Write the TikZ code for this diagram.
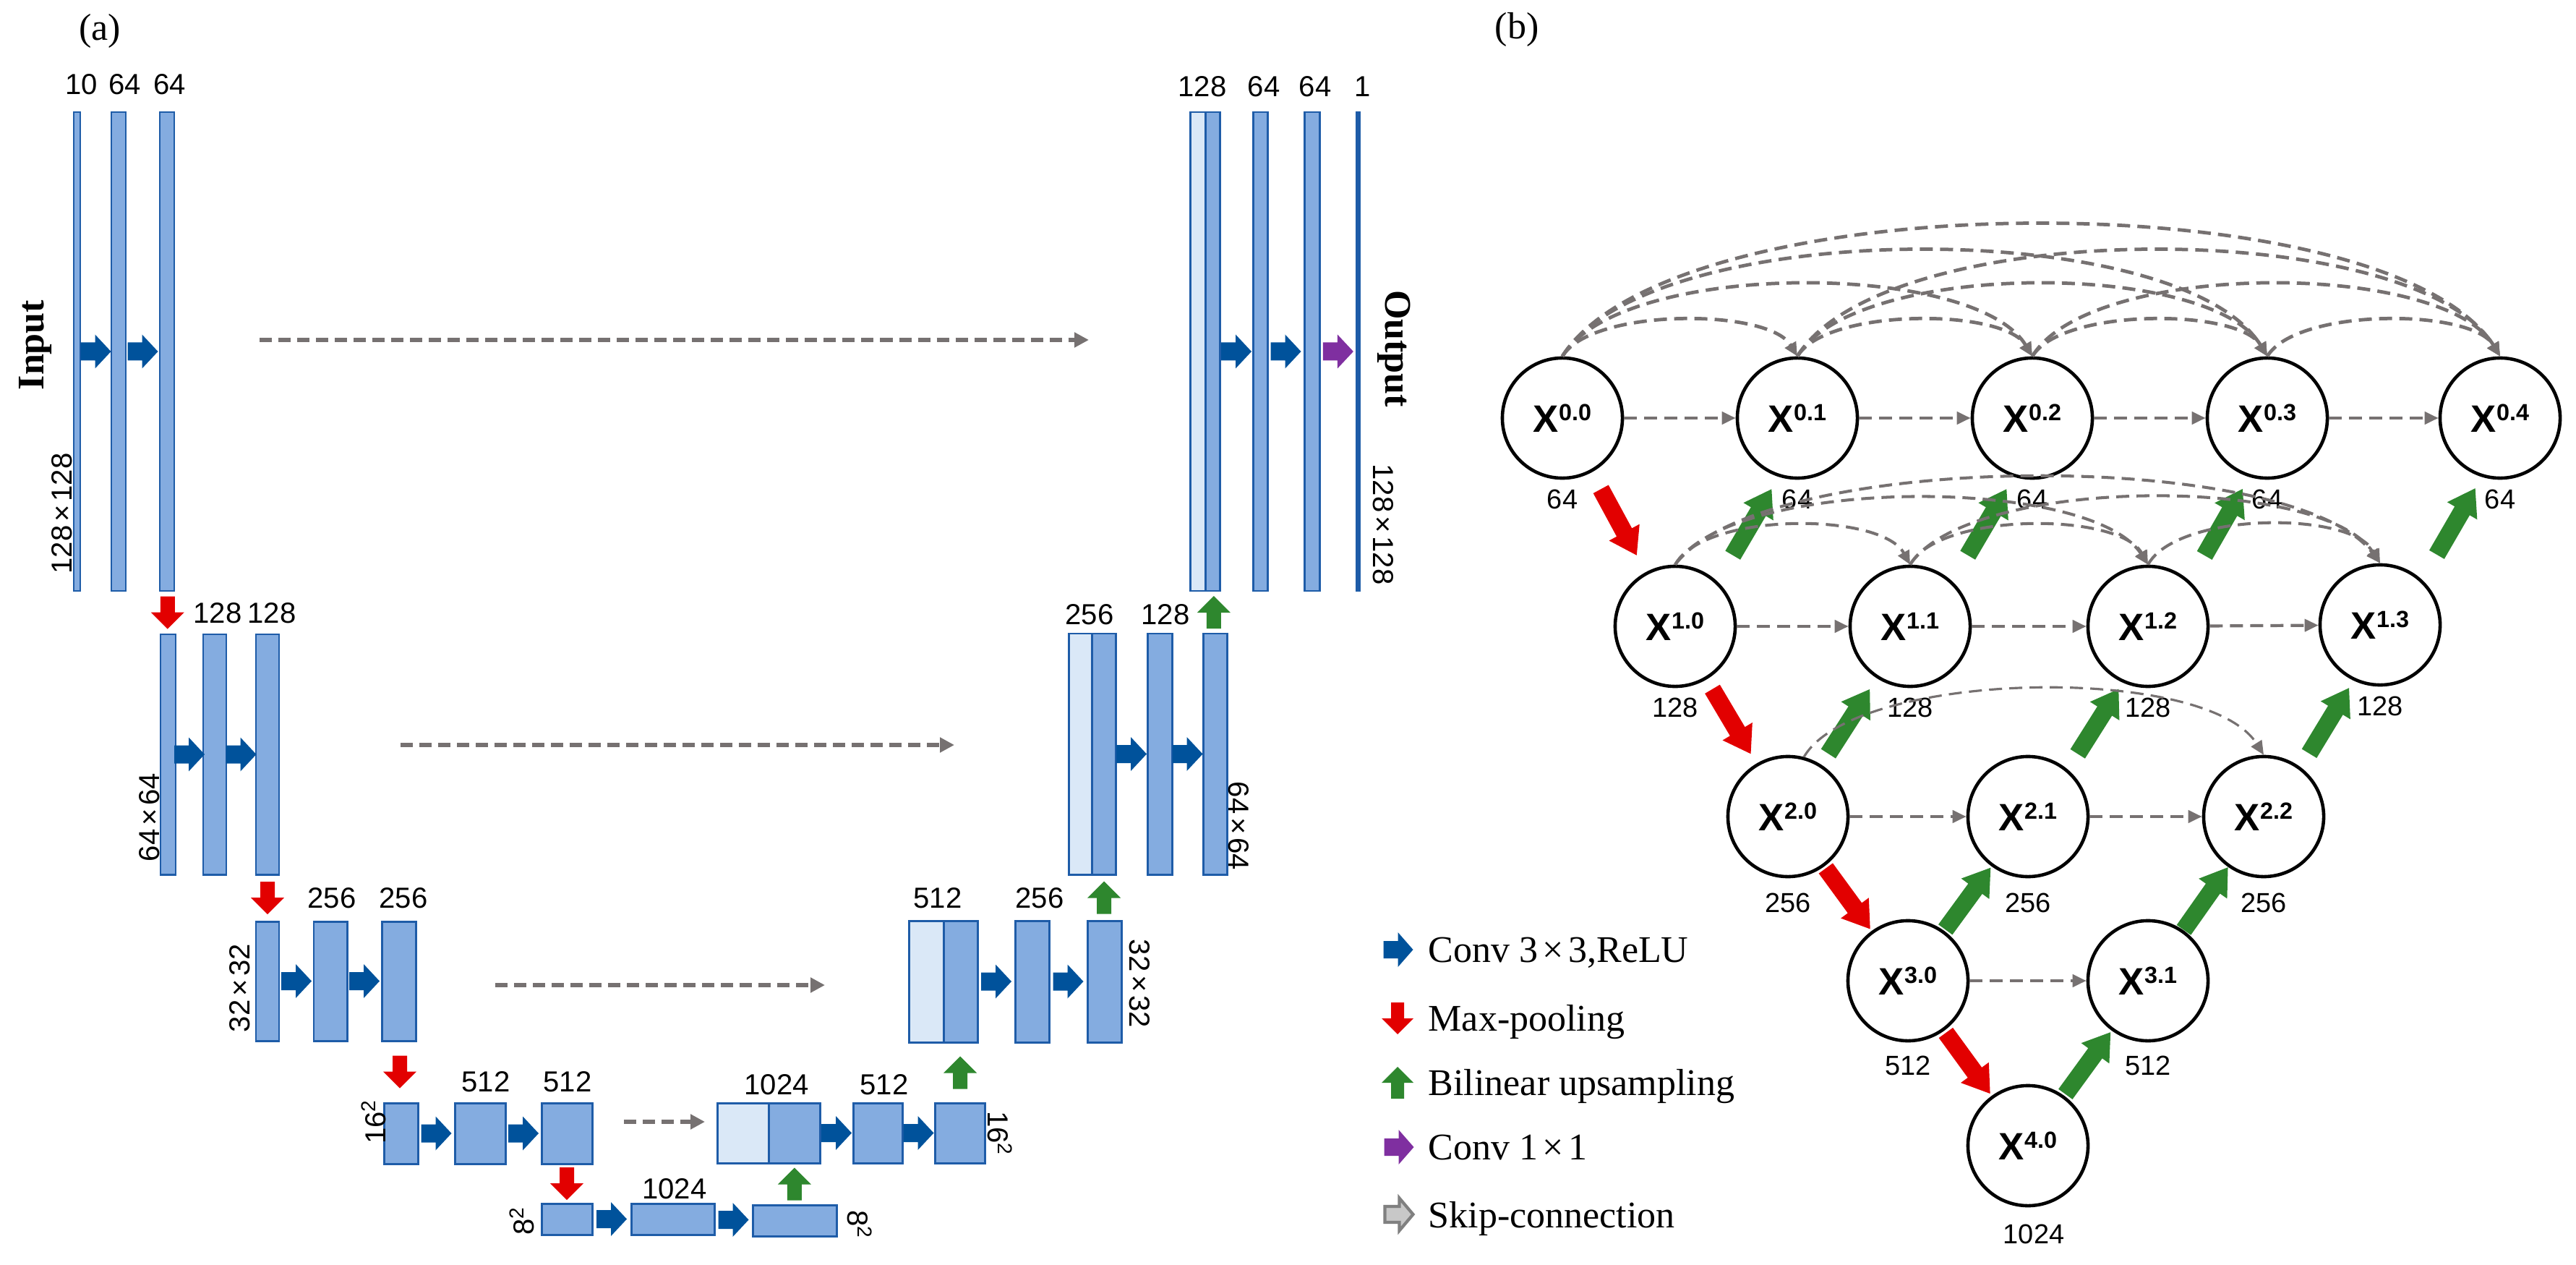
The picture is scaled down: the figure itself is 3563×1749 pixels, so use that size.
\documentclass[tikz,border=0pt]{standalone}
\usepackage{fontspec}
\setmainfont{Liberation Serif}
\setsansfont{Liberation Sans}
\usetikzlibrary{arrows.meta,calc,fit}
\definecolor{barfill}{RGB}{132,172,224}
\definecolor{barlight}{RGB}{218,232,247}
\definecolor{barline}{RGB}{30,92,168}
\definecolor{convblue}{RGB}{0,82,155}
\definecolor{poolred}{RGB}{226,0,0}
\definecolor{upgreen}{RGB}{46,135,46}
\definecolor{cpurple}{RGB}{127,47,160}
\definecolor{skipgray}{RGB}{118,113,113}
\definecolor{leggray}{RGB}{200,200,200}
\definecolor{legline}{RGB}{128,128,128}
\newcommand\Xl[1]{X\raisebox{4.6pt}{\fontsize{9.2}{9.2}\selectfont #1}}
\newcommand\mkbar[6][bar]{\node[#1, fit={(#3,#5) (#4,#6)}] (#2) {};}
\newcommand\sqr[1]{#1\textsuperscript{2}}
\newcommand\tms[2]{#1\hspace{0.12em}×\hspace{0.12em}#2}
\tikzset{
  pics/blk/.style n args={5}{code={%
    \path[#1] ({-(#2)/2},{-(#3)/2}) -- ({(#2)/2-(#5)},{-(#3)/2}) -- ({(#2)/2-(#5)},{-(#4)/2}) -- ({(#2)/2},0) -- ({(#2)/2-(#5)},{(#4)/2}) -- ({(#2)/2-(#5)},{(#3)/2}) -- ({-(#2)/2},{(#3)/2}) -- cycle;}},
}
\begin{document}
\begin{tikzpicture}[x=0.01cm,y=-0.01cm,
  bar/.style={draw=barline, line width=0.85pt, fill=barfill, inner sep=0pt, outer sep=0pt},
  barL/.style={bar, fill=barlight},
  outbar/.style={bar, fill=barline},
  numa/.style={font=\sffamily\fontsize{11.4}{12}\selectfont, inner sep=0pt},
  numb/.style={font=\sffamily\fontsize{10.8}{12}\selectfont, inner sep=0pt},
  legt/.style={font=\fontsize{14.8}{16}\selectfont, inner sep=0pt, anchor=base west},
  titlet/.style={font=\bfseries\fontsize{14.8}{16}\selectfont, inner sep=0pt},
  panel/.style={font=\fontsize{14.8}{16}\selectfont, inner sep=0pt},
  xnode/.style={circle, draw=black, line width=1.3pt, fill=white, minimum size=1.66cm, inner sep=0pt, font=\sffamily\bfseries\fontsize{15}{15}\selectfont},
  skipa/.style={draw=skipgray, line width=1.7pt, dash pattern=on 0.17cm off 0.09cm, -{Triangle[length=0.2cm,width=0.2cm]}},
  skipb/.style={draw=skipgray, line width=1.2pt, dash pattern=on 0.18cm off 0.1cm, -{Triangle[length=0.19cm,width=0.17cm]}},
  arc0/.style={skipb, line width=1.35pt},
  arc1/.style={skipb, line width=1.15pt},
  arc2/.style={skipb, line width=0.9pt},
]
\useasboundingbox (0,0) rectangle (3563,1749);

% ---------------- panel (a) ----------------
\node[panel] (pa) at (138,43) {(a)};
\node[panel] (pb) at (2098,41) {(b)};

% encoder
\mkbar{E0a}{102}{111}{155}{817}
\mkbar{E0b}{154}{174}{155}{817}
\mkbar{E0c}{221}{241}{155}{817}
\mkbar{E1a}{222}{243}{877}{1209}
\mkbar{E1b}{281}{313}{877}{1209}
\mkbar{E1c}{354}{386}{877}{1209}
\mkbar{E2a}{354}{386}{1274}{1439}
\mkbar{E2b}{434}{480}{1274}{1439}
\mkbar{E2c}{528}{575}{1274}{1439}
\mkbar{E3a}{531}{578}{1525}{1609}
\mkbar{E3b}{629}{699}{1525}{1609}
\mkbar{E3c}{749}{819}{1525}{1609}
\mkbar{B4a}{749}{819}{1664}{1707}
\mkbar{B4b}{873}{988}{1664}{1707}
\mkbar{B4c}{1041}{1157}{1666}{1709}
% decoder
\mkbar[barL]{D3l}{992}{1063}{1525}{1608}
\mkbar{D3d}{1063}{1134}{1525}{1608}
\mkbar{D3b}{1180}{1248}{1525}{1608}
\mkbar{D3c}{1293}{1362}{1525}{1608}
\mkbar[barL]{D2l}{1257}{1305}{1273}{1441}
\mkbar{D2d}{1305}{1352}{1273}{1441}
\mkbar{D2b}{1404}{1451}{1273}{1441}
\mkbar{D2c}{1504}{1551}{1273}{1441}
\mkbar[barL]{D1l}{1478}{1510}{876}{1209}
\mkbar{D1d}{1510}{1543}{876}{1209}
\mkbar{D1b}{1587}{1621}{876}{1209}
\mkbar{D1c}{1664}{1697}{876}{1209}
\mkbar[barL]{D0l}{1646}{1667}{155}{817}
\mkbar{D0d}{1667}{1687}{155}{817}
\mkbar{D0b}{1733}{1753}{155}{817}
\mkbar{D0c}{1804}{1825}{155}{817}
\mkbar[outbar]{Out}{1877}{1880}{155}{817}

% conv arrows
\foreach \a/\b in {E0a/E0b,E0b/E0c,E1a/E1b,E1b/E1c,E2a/E2b,E2b/E2c,E3a/E3b,E3b/E3c,B4a/B4b,B4b/B4c,D3d/D3b,D3b/D3c,D2d/D2b,D2b/D2c,D1d/D1b,D1b/D1c,D0d/D0b,D0b/D0c}
  \pic at ($(\a.east)!0.5!(\b.west)$) {blk={fill=convblue}{42}{25}{47}{22}};
\pic at ($(D0c.east)!0.5!(Out.west)$) {blk={fill=cpurple}{42}{25}{47}{22}};
% pooling
\foreach \a/\b in {E0c/E1a,E1c/E2a,E2c/E3a,E3c/B4a}
  \pic[rotate=-90] at ($(\a.south)!0.5!(\b.north)$) {blk={fill=poolred}{45}{20}{46}{23}};
% upsampling
\foreach \a/\b in {B4c/D3d,D3c/D2d,D2c/D1d,D1c/D0d}
  \pic[rotate=90] at ($(\a.north)!0.5!(\b.south)$) {blk={fill=upgreen}{45}{20}{46}{23}};

% skip connections (a)
\coordinate (s0a) at (359,470);  \coordinate (s0b) at (1506,470);
\coordinate (s1a) at (554,1030); \coordinate (s1b) at (1320,1030);
\coordinate (s2a) at (685,1362); \coordinate (s2b) at (1141,1362);
\coordinate (s3a) at (863,1551); \coordinate (s3b) at (975,1551);
\draw[skipa] (s0a) -- (s0b);
\draw[skipa] (s1a) -- (s1b);
\draw[skipa] (s2a) -- (s2b);
\draw[skipa] (s3a) -- (s3b);

% channel labels
\node[numa] at (113,117) {10};
\node[numa] at (173,117) {64};
\node[numa] at (235,117) {64};
\node[numa] at (1663,120) {128};
\node[numa] at (1748,120) {64};
\node[numa] at (1819,120) {64};
\node[numa] at (1885,120) {1};
\node[numa] at (301,848) {128};
\node[numa] at (376,848) {128};
\node[numa] at (1507,850) {256};
\node[numa] at (1612,850) {128};
\node[numa] at (459,1242) {256};
\node[numa] at (558,1242) {256};
\node[numa] at (1297,1242) {512};
\node[numa] at (1438,1242) {256};
\node[numa] at (672,1496) {512};
\node[numa] at (785,1496) {512};
\node[numa] at (1074,1500) {1024};
\node[numa] at (1223,1500) {512};
\node[numa] at (933,1644) {1024};
% size labels
\node[numa,rotate=90] at (86,710) {\tms{128}{128}};
\node[numa,rotate=90] at (207,1130) {\tms{64}{64}};
\node[numa,rotate=90] at (332,1366) {\tms{32}{32}};
\node[numa,rotate=90] at (517,1551) {\sqr{16}};
\node[numa,rotate=90] at (722,1688) {\sqr{8}};
\node[numa,rotate=-90] at (1913,725) {\tms{128}{128}};
\node[numa,rotate=-90] at (1713,1142) {\tms{64}{64}};
\node[numa,rotate=-90] at (1576,1360) {\tms{32}{32}};
\node[numa,rotate=-90] at (1383,1567) {\sqr{16}};
\node[numa,rotate=-90] at (1189,1693) {\sqr{8}};
\node[titlet,rotate=90] at (49,477) {Input};
\node[titlet,rotate=-90] at (1928,482) {Output};

% legend
\pic at (1934,1313) {blk={fill=convblue}{41}{24}{48}{21}};
\pic[rotate=-90] at (1933,1408) {blk={fill=poolred}{44}{18}{44}{22}};
\pic[rotate=90] at (1933,1497) {blk={fill=upgreen}{44}{18}{44}{22}};
\pic at (1935,1586) {blk={fill=cpurple}{41}{24}{48}{21}};
\pic at (1935,1679) {blk={fill=leggray,draw=legline,line width=1.2pt}{39}{22}{45}{19}};
\node[legt] at (1975,1330) {Conv \tms{3}{3},ReLU};
\node[legt] at (1975,1425) {Max-pooling};
\node[legt] at (1975,1514) {Bilinear upsampling};
\node[legt] at (1975,1603) {Conv \tms{1}{1}};
\node[legt] at (1975,1697) {Skip-connection};

% ---------------- panel (b) ----------------
\node[xnode] (X00) at (2161,578) {\Xl{0.0}};
\node[xnode] (X01) at (2486,578) {\Xl{0.1}};
\node[xnode] (X02) at (2811,578) {\Xl{0.2}};
\node[xnode] (X03) at (3136,578) {\Xl{0.3}};
\node[xnode] (X04) at (3458,578) {\Xl{0.4}};
\node[xnode] (X10) at (2317,866) {\Xl{1.0}};
\node[xnode] (X11) at (2642,866) {\Xl{1.1}};
\node[xnode] (X12) at (2971,866) {\Xl{1.2}};
\node[xnode] (X13) at (3292,864) {\Xl{1.3}};
\node[xnode] (X20) at (2473,1129) {\Xl{2.0}};
\node[xnode] (X21) at (2805,1129) {\Xl{2.1}};
\node[xnode] (X22) at (3131,1129) {\Xl{2.2}};
\node[xnode] (X30) at (2639,1356) {\Xl{3.0}};
\node[xnode] (X31) at (2971,1356) {\Xl{3.1}};
\node[xnode] (X40) at (2805,1584) {\Xl{4.0}};

% channel labels (b)
\foreach \n in {X00,X01,X02,X03,X04} \node[numb] at ($(\n)+(0,112)$) {64};
\foreach \n in {X10,X11,X12,X13} \node[numb] at ($(\n)+(0,112)$) {128};
\foreach \n in {X20,X21,X22} \node[numb] at ($(\n)+(0,119)$) {256};
\foreach \n in {X30,X31} \node[numb] at ($(\n)+(0,117)$) {512};
\node[numb] at ($(X40)+(8,122)$) {1024};

% max-pooling (b)
\foreach \a/\b in {X00/X10,X10/X20,X20/X30,X30/X40}
  \path let \p1=($(\b)-(\a)$), \n1={atan2(\y1,\x1)} in
    pic[rotate=\n1] at ($(\a)!0.5!(\b)$) {blk={fill=poolred}{104}{24}{48}{36}};
% upsampling (b)
\foreach \a/\b/\s in {X10/X01/22,X11/X02/22,X12/X03/22,X13/X04/22,X20/X11/0,X21/X12/14,X22/X13/10,X30/X21/0,X31/X22/0,X40/X31/0}
  \path let \p1=($(\b)-(\a)$), \n1={atan2(\y1,\x1)} in
    pic[rotate=\n1] at ($(\a)!0.5!(\b)+(\s,0)$) {blk={fill=upgreen}{106}{24}{48}{36}};

% horizontal skips
\foreach \a/\b in {X00/X01,X01/X02,X02/X03,X03/X04,X10/X11,X11/X12,X12/X13,X20/X21,X21/X22,X30/X31}
  \draw[skipb] (\a) -- (\b);

% dense skip arcs, row 0
\foreach \a/\b in {X00/X01,X01/X02,X02/X03,X03/X04}
  \draw[arc0] (\a.north) .. controls +(40,-67) and +(-40,-67) .. (\b.north);
\foreach \a/\b in {X00/X02,X01/X03,X02/X04}
  \draw[arc0] (\a.north) .. controls +(80,-133) and +(-80,-133) .. (\b.north);
\foreach \a/\b in {X00/X03,X01/X04}
  \draw[arc0] (\a.north) .. controls +(120,-195) and +(-120,-195) .. (\b.north);
\draw[arc0] (X00.north) .. controls +(155,-243) and +(-155,-243) .. (X04.north);
% row 1
\foreach \a/\b in {X10/X11,X11/X12,X12/X13}
  \draw[arc1] (\a.north) .. controls +(40,-73) and +(-40,-73) .. (\b.north);
\foreach \a/\b in {X10/X12,X11/X13}
  \draw[arc1] (\a.north) .. controls +(80,-123) and +(-80,-123) .. (\b.north);
\draw[arc1] (X10.north) .. controls +(120,-160) and +(-120,-160) .. (X13.north);
% row 2
\draw[arc2] (X20.75) .. controls +(70,-120) and +(-80,-127) .. (X22.north);
\end{tikzpicture}
\end{document}
